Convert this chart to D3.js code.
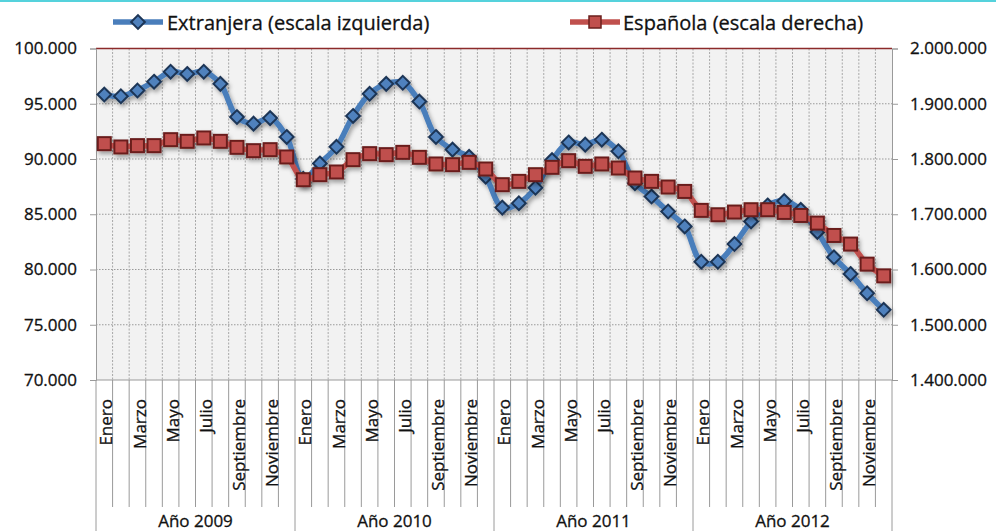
<!DOCTYPE html>
<html>
<head>
<meta charset="utf-8">
<script src="https://cdn.jsdelivr.net/npm/d3@7/dist/d3.min.js"></script>
<style>
  html, body { margin: 0; padding: 0; background: #fff; }
  svg { display: block; }
  text { font-family: "Open Sans", sans-serif; fill: #111; stroke: #111; stroke-width: 0.3px; }
</style>
</head>
<body>
<svg id="chart" width="996" height="531"></svg>
<script>
const years = ["Año 2009", "Año 2010", "Año 2011", "Año 2012"];
const months = ["Enero","Febrero","Marzo","Abril","Mayo","Junio","Julio","Agosto","Septiembre","Octubre","Noviembre","Diciembre"];
const extranjera = [
  95830, 95680, 96200, 97000, 97900, 97700, 97900, 96800, 93800, 93200, 93700, 92000,
  88200, 89600, 91100, 93900, 95900, 96800, 96900, 95200, 92000, 90850, 90200, 88400,
  85600, 86000, 87400, 89900, 91500, 91300, 91750, 90700, 87800, 86600, 85250, 83900,
  80700, 80700, 82300, 84350, 85800, 86200, 85400, 83400, 81100, 79600, 77850, 76350
];
const espanola = [
  1827800, 1821800, 1824200, 1824200, 1835000, 1832000, 1838100, 1832000, 1821100, 1815100, 1816900, 1803700,
  1762500, 1771600, 1776500, 1798800, 1809700, 1807900, 1812000, 1803000, 1791000, 1789700, 1793900, 1781900,
  1753500, 1759500, 1771600, 1784900, 1797000, 1786700, 1791000, 1783700, 1765600, 1759500, 1749300, 1741300,
  1707000, 1699100, 1704000, 1708200, 1708200, 1703300, 1697800, 1684000, 1661600, 1646000, 1609700, 1588500
];
const leftTicks = [70000, 75000, 80000, 85000, 90000, 95000, 100000];
const rightTicks = [1400000, 1500000, 1600000, 1700000, 1800000, 1900000, 2000000];
const seriesNames = ["Extranjera (escala izquierda)", "Española (escala derecha)"];

const svg = d3.select("#chart");
const L = 96, R = 892, T = 48.5, B = 380;

const cats = [];
years.forEach((y, yi) => months.forEach((m, mi) => cats.push({ key: y + "|" + m, year: y, month: m, mi, idx: yi * 12 + mi })));

const x = d3.scaleBand().domain(cats.map(c => c.key)).range([L, R]).padding(0);
const yL = d3.scaleLinear().domain([70000, 100000]).range([B, T]);
const yR = d3.scaleLinear().domain([1400000, 2000000]).range([B, T]);
const fmt = v => d3.format(",")(v).replace(/,/g, ".");

const defs = svg.append("defs");
const f = defs.append("filter").attr("id", "sh").attr("x", "-20%").attr("y", "-20%").attr("width", "140%").attr("height", "140%");
f.append("feDropShadow").attr("dx", 2).attr("dy", 3).attr("stdDeviation", 2).attr("flood-color", "#000").attr("flood-opacity", 0.35);

svg.append("rect").attr("x", 0).attr("y", 0).attr("width", 996).attr("height", 2).attr("fill", "#55d2dc");

svg.append("rect").attr("x", L).attr("y", T).attr("width", R - L).attr("height", B - T).attr("fill", "#f2f2f2");

svg.append("g").selectAll("line").data(leftTicks.filter(t => t !== 70000 && t !== 100000)).join("line")
  .attr("x1", L).attr("x2", R).attr("y1", d => yL(d)).attr("y2", d => yL(d))
  .attr("stroke", "#9a9a9a").attr("stroke-width", 1).attr("stroke-dasharray", "1.5,1.5");

svg.append("g").selectAll("line").data(cats.slice(1)).join("line")
  .attr("x1", d => x(d.key)).attr("x2", d => x(d.key)).attr("y1", T).attr("y2", B)
  .attr("stroke", "#a8a8a8").attr("stroke-width", 1).attr("stroke-dasharray", "2,1.5");

svg.append("line").attr("x1", L).attr("x2", R).attr("y1", T).attr("y2", T).attr("stroke", "#8c2a2a").attr("stroke-width", 1.5);

const gL = svg.append("g").attr("transform", `translate(${L},0)`)
  .call(d3.axisLeft(yL).tickValues(leftTicks).tickFormat(fmt).tickSize(6).tickPadding(13));
gL.select(".domain").attr("stroke", "#9a9a9a");
gL.selectAll(".tick line").attr("stroke", "#9a9a9a");
gL.selectAll("text").style("font-family", "'Open Sans', sans-serif").style("font-size", "17px").attr("fill", "#111");

const gR = svg.append("g").attr("transform", `translate(${R},0)`)
  .call(d3.axisRight(yR).tickValues(rightTicks).tickFormat(fmt).tickSize(6).tickPadding(12));
gR.select(".domain").attr("stroke", "#9a9a9a");
gR.selectAll(".tick line").attr("stroke", "#9a9a9a");
gR.selectAll("text").style("font-family", "'Open Sans', sans-serif").style("font-size", "17px").attr("fill", "#111");

svg.append("line").attr("x1", L).attr("x2", R).attr("y1", B).attr("y2", B).attr("stroke", "#9a9a9a");

svg.append("g").selectAll("line").data(cats.slice(1).filter(c => c.mi !== 0)).join("line")
  .attr("x1", d => x(d.key)).attr("x2", d => x(d.key)).attr("y1", B).attr("y2", 507)
  .attr("stroke", "#9a9a9a");
const yearEdges = cats.filter(c => c.mi === 0).map(c => x(c.key)).concat([R]);
svg.append("g").selectAll("line").data(yearEdges).join("line")
  .attr("x1", d => d).attr("x2", d => d).attr("y1", B).attr("y2", 531)
  .attr("stroke", "#9a9a9a");

svg.append("g").selectAll("text").data(cats.filter(c => c.mi % 2 === 0)).join("text")
  .attr("transform", d => `translate(${x(d.key) + x.bandwidth() / 2 + 2},399) rotate(-90)`)
  .attr("text-anchor", "end").attr("dy", "0.36em")
  .style("font-size", "17px")
  .text(d => d.month);

svg.append("g").selectAll("text").data(years).join("text")
  .attr("x", (d, i) => (x(cats[i * 12].key) + x(cats[i * 12 + 11].key) + x.bandwidth()) / 2)
  .attr("y", 527).attr("text-anchor", "middle").style("font-size", "17px")
  .text(d => d);

const cx = i => x(cats[i].key) + x.bandwidth() / 2;
const curve = d3.curveCatmullRom.alpha(0.5);

const blueG = svg.append("g").attr("filter", "url(#sh)");
blueG.append("path").datum(extranjera)
  .attr("d", d3.line().x((d, i) => cx(i)).y(d => yL(d)).curve(curve))
  .attr("fill", "none").attr("stroke", "#4a7ebb").attr("stroke-width", 5.5).attr("stroke-linejoin", "round");
const diamond = d3.symbol().type(d3.symbolDiamond2).size(120);
blueG.selectAll("path.m").data(extranjera).join("path").attr("class", "m")
  .attr("d", diamond).attr("transform", (d, i) => `translate(${cx(i)},${yL(d)})`)
  .attr("fill", "#4f81bd").attr("stroke", "#1c3556").attr("stroke-width", 2);

const redG = svg.append("g").attr("filter", "url(#sh)");
redG.append("path").datum(espanola)
  .attr("d", d3.line().x((d, i) => cx(i)).y(d => yR(d)).curve(curve))
  .attr("fill", "none").attr("stroke", "#c0504d").attr("stroke-width", 5.5).attr("stroke-linejoin", "round");
redG.selectAll("rect.m").data(espanola).join("rect").attr("class", "m")
  .attr("x", (d, i) => cx(i) - 6.5).attr("y", d => yR(d) - 6.5).attr("width", 13).attr("height", 13)
  .attr("fill", "#c0504d").attr("stroke", "#6b1f1d").attr("stroke-width", 2);

const lg = svg.append("g");
lg.append("line").attr("x1", 113).attr("x2", 163).attr("y1", 22).attr("y2", 22).attr("stroke", "#4a7ebb").attr("stroke-width", 5.5);
lg.append("path").attr("d", diamond).attr("transform", "translate(138,22)").attr("fill", "#4f81bd").attr("stroke", "#1c3556").attr("stroke-width", 2);
lg.append("text").attr("x", 167).attr("y", 30).style("font-size", "20px").text(seriesNames[0]);
lg.append("line").attr("x1", 570).attr("x2", 620).attr("y1", 22).attr("y2", 22).attr("stroke", "#c0504d").attr("stroke-width", 5.5);
lg.append("rect").attr("x", 589).attr("y", 16).attr("width", 12).attr("height", 12).attr("fill", "#c0504d").attr("stroke", "#6b1f1d").attr("stroke-width", 1.5);
lg.append("text").attr("x", 623).attr("y", 30).style("font-size", "20px").text(seriesNames[1]);
</script>
</body>
</html>
